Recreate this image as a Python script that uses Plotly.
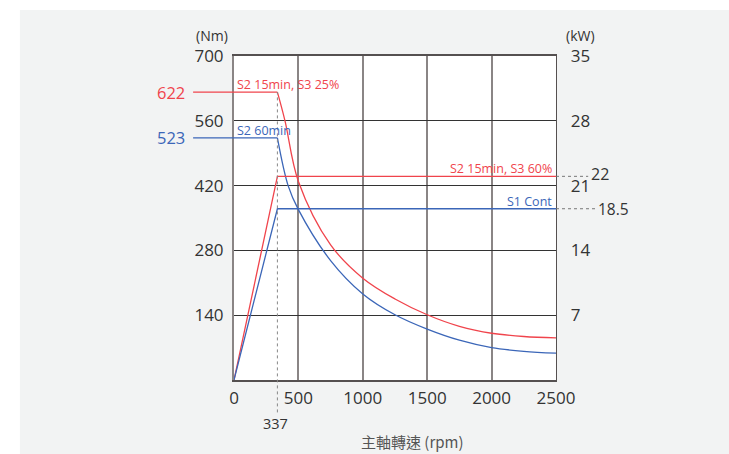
import plotly.graph_objects as go

# ---- data ----
rpm_corner = 337
rpm_end = 2500
rpm_red_decay = [337, 396, 500, 750, 1000, 1250, 1500, 1750, 2000, 2250, 2500]
torque_red_decay = [622, 560, 429, 292, 220, 175, 141, 116, 101, 94, 91]
rpm_blue_decay = [337, 420, 500, 750, 1000, 1250, 1500, 1750, 2000, 2250, 2500]
torque_blue_decay = [523, 420, 368, 258, 186, 141, 110, 86, 70, 62, 58]
rpm_power = [0, 337, 2500]
power_red = [0, 22, 22]
power_blue = [0, 18.5, 18.5]
torque_ticks = [140, 280, 420, 560, 700]
power_ticks = [7, 14, 21, 28, 35]
rpm_ticks = [0, 500, 1000, 1500, 2000, 2500]

RED = "#f0444c"
BLUE = "#3b66b8"
TXT = "#333333"
BG = "#f2f3f3"
FONT = "Open Sans"

fig = go.Figure()

# torque curves (left axis)
fig.add_trace(go.Scatter(x=[0, rpm_corner], y=[torque_red_decay[0]] * 2, mode="lines",
                         line=dict(color=RED, width=1.3), hoverinfo="skip"))
fig.add_trace(go.Scatter(x=rpm_red_decay, y=torque_red_decay, mode="lines",
                         line=dict(color=RED, width=1.3, shape="spline", smoothing=1.0)))
fig.add_trace(go.Scatter(x=[0, rpm_corner], y=[torque_blue_decay[0]] * 2, mode="lines",
                         line=dict(color=BLUE, width=1.3), hoverinfo="skip"))
fig.add_trace(go.Scatter(x=rpm_blue_decay, y=torque_blue_decay, mode="lines",
                         line=dict(color=BLUE, width=1.3, shape="spline", smoothing=1.0)))
# power curves (right axis)
fig.add_trace(go.Scatter(x=rpm_power, y=power_red, mode="lines", yaxis="y2",
                         line=dict(color=RED, width=1.3)))
fig.add_trace(go.Scatter(x=rpm_power, y=power_blue, mode="lines", yaxis="y2",
                         line=dict(color=BLUE, width=1.3)))

ymax = 700
p2max = 35
shapes = [
    # extensions of the constant-torque lines to the left labels
    dict(type="line", xref="paper", yref="paper", x0=-0.127, x1=0,
         y0=torque_red_decay[0] / ymax, y1=torque_red_decay[0] / ymax, line=dict(color=RED, width=1.3)),
    dict(type="line", xref="paper", yref="paper", x0=-0.127, x1=0,
         y0=torque_blue_decay[0] / ymax, y1=torque_blue_decay[0] / ymax, line=dict(color=BLUE, width=1.3)),
    # dotted corner speed line
    dict(type="line", xref="paper", yref="paper", x0=rpm_corner / rpm_end, x1=rpm_corner / rpm_end,
         y0=-0.1, y1=torque_red_decay[0] / ymax, line=dict(color="#888888", width=1, dash="dot")),
    # dotted leaders to right power values
    dict(type="line", xref="paper", yref="paper", x0=1, x1=1.1,
         y0=power_red[-1] / p2max, y1=power_red[-1] / p2max, line=dict(color="#777777", width=1, dash="dot")),
    dict(type="line", xref="paper", yref="paper", x0=1, x1=1.125,
         y0=power_blue[-1] / p2max, y1=power_blue[-1] / p2max, line=dict(color="#777777", width=1, dash="dot")),
    # white page edges
    dict(type="rect", xref="paper", yref="paper", x0=-0.8, x1=-0.665, y0=-0.3, y1=1.3,
         fillcolor="white", line=dict(width=0), layer="below"),
    dict(type="rect", xref="paper", yref="paper", x0=-0.8, x1=1.6, y0=1.142, y1=1.3,
         fillcolor="white", line=dict(width=0), layer="below"),
]

ann = [
    dict(text=str(torque_red_decay[0]), x=-0.146, y=torque_red_decay[0] / ymax, xanchor="right",
         font=dict(color=RED, size=16.5)),
    dict(text=str(torque_blue_decay[0]), x=-0.146, y=torque_blue_decay[0] / ymax, xanchor="right",
         font=dict(color=BLUE, size=16.5)),
    dict(text="S2 15min, S3 25%", x=0.003, y=torque_red_decay[0] / ymax, xanchor="left", yanchor="bottom",
         yshift=-3, font=dict(color=RED, size=12.5)),
    dict(text="S2 60min", x=0.003, y=torque_blue_decay[0] / ymax, xanchor="left", yanchor="bottom",
         yshift=-3, font=dict(color=BLUE, size=12.5)),
    dict(text="S2 15min, S3 60%", x=0.995, y=power_red[-1] / p2max, xanchor="right", yanchor="bottom",
         yshift=-3, font=dict(color=RED, size=12.5)),
    dict(text="S1 Cont", x=0.995, y=power_blue[-1] / p2max, xanchor="right", yanchor="bottom",
         yshift=-3, font=dict(color=BLUE, size=12.5)),
    dict(text=str(power_red[-1]), x=1.103, y=power_red[-1] / p2max, xanchor="left", yshift=2,
         font=dict(color=TXT, size=16)),
    dict(text=str(power_blue[-1]), x=1.125, y=power_blue[-1] / p2max, xanchor="left",
         font=dict(color=TXT, size=15.5)),
    dict(text=str(rpm_corner), x=0.128, y=-0.135, xanchor="center",
         font=dict(color=TXT, size=14.5)),
    dict(text="(Nm)", x=-0.068, y=1.064, xanchor="center", font=dict(color=TXT, size=14)),
    dict(text="(kW)", x=1.075, y=1.062, xanchor="center", font=dict(color=TXT, size=14)),
    dict(text="主軸轉速 (rpm)", x=0.555, y=-0.19, xanchor="center",
         font=dict(color="#555555", size=15, family="Noto Sans CJK TC")),
]
for a in ann:
    a.setdefault("xref", "paper")
    a.setdefault("yref", "paper")
    a["showarrow"] = False
    a.setdefault("yanchor", "middle")

fig.update_layout(
    width=729, height=454,
    margin=dict(l=234, r=173, t=56, b=74),
    paper_bgcolor=BG, plot_bgcolor="white",
    font=dict(family=FONT, color=TXT, size=17),
    showlegend=False,
    shapes=shapes, annotations=ann,
    xaxis=dict(range=[0, rpm_end], tickvals=rpm_ticks, showgrid=True, gridcolor="#8a8585", gridwidth=2,
               showline=True, linecolor="#555050", linewidth=2, mirror=True, zeroline=False,
               ticks="", ticklabelstandoff=2, tickfont=dict(size=17)),
    yaxis=dict(range=[0, ymax], tickvals=torque_ticks, showgrid=True, gridcolor="#333333", gridwidth=1.3,
               showline=True, linecolor="#8a8585", linewidth=2, zeroline=False,
               ticks="", ticklabelstandoff=5, tickfont=dict(size=17)),
    yaxis2=dict(range=[0, p2max], tickvals=power_ticks, overlaying="y", side="right", showgrid=False,
                zeroline=False, showline=True, linecolor="#555050", linewidth=1.3,
                ticks="", ticklabelstandoff=10, tickfont=dict(size=17)),
)

fig.write_html(
    "out.html",
    config={"displayModeBar": False, "staticPlot": True},
    post_script=("document.body.style.margin='0';document.body.style.overflow='hidden';"
                 "document.documentElement.style.overflow='hidden';"
                 "document.body.style.background='" + BG + "';"),
)
